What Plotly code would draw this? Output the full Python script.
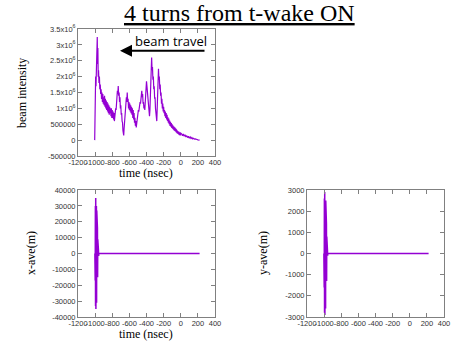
import plotly.graph_objects as go

# ---------------- data ----------------
int_t = [-1005, -1002, -998, -994, -990, -986, -982, -978, -975, -972, -968, -964, -960, -955, -950, -945,
         -940, -935, -930, -925, -920, -915, -910, -905, -900, -895, -890, -885, -880, -875, -870, -865,
         -860, -855, -850, -845, -840, -835, -830, -825, -820, -815, -810, -805, -800, -795, -790, -785,
         -780, -775, -770, -765, -760, -755, -750, -745, -740, -735, -730, -725, -720, -715, -710, -705,
         -700, -695, -690, -685, -680, -675, -670, -666, -662, -658, -654, -650, -645, -640, -635, -630,
         -625, -620, -615, -610, -605, -600, -595, -590, -585, -580, -575, -570, -565, -560, -555, -550,
         -545, -540, -535, -530, -525, -520, -515, -510, -505, -500, -495, -490, -485, -480, -475, -470,
         -465, -460, -455, -450, -445, -440, -435, -430, -425, -420, -415, -410, -405, -400, -395, -390,
         -385, -380, -375, -370, -365, -360, -355, -350, -345, -340, -335, -330, -325, -320, -315, -310,
         -305, -300, -295, -290, -285, -280, -275, -270, -265, -260, -255, -250, -245, -240, -235, -230,
         -225, -220, -215, -210, -205, -200, -195, -190, -185, -180, -175, -170, -165, -160, -155, -150,
         -145, -140, -135, -130, -125, -120, -115, -110, -105, -100, -95, -90, -85, -80, -75, -70,
         -65, -60, -55, -50, -45, -40, -35, -30, -25, -20, -15, -10, -5, 0, 10, 20,
         30, 40, 50, 60, 70, 80, 90, 100, 110, 120, 130, 140, 150, 160, 170, 180,
         190, 200, 210, 220]
int_v_e6 = [0.0, 1.7, 1.5, 2.0, 1.7, 2.2, 1.9, 2.6, 3.25, 2.4, 2.9, 2.0, 2.2, 1.8, 2.0, 1.6,
            1.75, 1.45, 1.6, 1.3, 1.5, 1.2, 1.45, 1.15, 1.35, 1.1, 1.4, 1.05, 1.3, 1.0, 1.25, 0.95,
            1.2, 0.9, 1.15, 0.85, 1.1, 0.8, 1.05, 0.85, 1.0, 0.75, 1.0, 0.7, 0.95, 0.7, 0.9, 0.65,
            0.85, 0.6, 0.9, 0.7, 1.0, 0.95, 1.3, 1.25, 1.55, 1.45, 1.7, 1.4, 1.5, 1.2, 1.35, 1.0,
            1.1, 0.8, 0.85, 0.6, 0.55, 0.3, 0.2, 0.15, 0.35, 0.5, 0.75, 0.9, 1.15, 1.05, 1.35, 1.2,
            1.5, 1.2, 1.3, 1.0, 1.2, 0.95, 1.15, 0.9, 1.1, 0.85, 1.05, 0.8, 1.0, 0.7, 0.95, 0.65,
            0.85, 0.55, 0.7, 0.45, 0.6, 0.4, 0.55, 0.65, 0.8, 0.75, 0.95, 0.9, 1.1, 1.0, 1.2, 1.15,
            1.4, 1.3, 1.55, 1.35, 1.45, 1.15, 1.2, 1.0, 1.1, 0.95, 1.2, 1.4, 1.5, 1.85, 1.7, 1.55,
            1.4, 1.25, 1.1, 0.95, 0.75, 0.95, 1.3, 1.7, 2.1, 2.6, 2.2, 2.3, 1.9, 2.0, 1.6, 1.7,
            1.3, 1.35, 1.0, 0.9, 0.7, 0.6, 1.0, 1.6, 2.0, 2.25, 1.9, 2.0, 1.6, 1.75, 1.4, 1.5,
            1.15, 1.3, 1.0, 1.15, 0.9, 1.05, 0.85, 0.95, 0.75, 0.9, 0.7, 0.85, 0.65, 0.8, 0.6, 0.72,
            0.55, 0.68, 0.5, 0.62, 0.45, 0.58, 0.42, 0.54, 0.38, 0.5, 0.36, 0.46, 0.33, 0.43, 0.3, 0.4,
            0.28, 0.37, 0.25, 0.34, 0.22, 0.3, 0.2, 0.28, 0.18, 0.26, 0.16, 0.24, 0.15, 0.22, 0.2, 0.14,
            0.19, 0.12, 0.17, 0.1, 0.14, 0.08, 0.12, 0.06, 0.1, 0.05, 0.08, 0.04, 0.06, 0.03, 0.04, 0.02,
            0.02, 0.01, 0.005, 0.0]
int_v = [v * 1e6 for v in int_v_e6]

ave_t = [-1003, -1001, -999, -997, -995, -993, -991, -989, -987, -985, -983, -981, -979, -977,
         -975, -973, -971, -969, -967, -965, -963, -961, -959, -957, 220]
xave_v = [0, 16000, -17000, 30000, -33000, 35000, -35000, 34000, -33000, 30000, -31000, 27000,
          -28000, 22000, -20000, 16000, -15000, 9000, -8000, 4000, -3500, 2000, -1500, 0, 0]
yave_v = [0, 1500, -1600, 2600, -2800, 2900, -2900, 2800, -2700, 2500, -2600, 2500,
          -2400, 2000, -1800, 1400, -1300, 800, -700, 300, -250, 150, -100, 0, 0]

x_ticks = [-1200, -1000, -800, -600, -400, -200, 0, 200, 400]
int_ticks = [-500000, 0, 500000, 1e6, 1.5e6, 2e6, 2.5e6, 3e6, 3.5e6]
int_ticktext = ["-500000", "0", "500000", "1x10<sup>6</sup>", "1.5x10<sup>6</sup>", "2x10<sup>6</sup>",
                "2.5x10<sup>6</sup>", "3x10<sup>6</sup>", "3.5x10<sup>6</sup>"]
xave_ticks = [-40000, -30000, -20000, -10000, 0, 10000, 20000, 30000, 40000]
yave_ticks = [-3000, -2000, -1000, 0, 1000, 2000, 3000]

# ---------------- figure ----------------
W, H = 452, 347
LINE = "#9400d3"
FRAME = "#808080"
TICKFONT = dict(family="Liberation Sans, Arial, sans-serif", size=7.5, color="#333333")
SERIF = "Liberation Serif, Times New Roman, serif"

def dx(a, b):
    return [a / W, b / W]

def dy(top, bottom):
    return [1 - bottom / H, 1 - top / H]

fig = go.Figure()
fig.add_trace(go.Scatter(x=int_t, y=int_v, mode="lines", line=dict(color=LINE, width=1.2),
                         xaxis="x", yaxis="y", showlegend=False))
fig.add_trace(go.Scatter(x=ave_t, y=xave_v, mode="lines", line=dict(color=LINE, width=1.5),
                         xaxis="x2", yaxis="y2", showlegend=False))
fig.add_trace(go.Scatter(x=ave_t, y=yave_v, mode="lines", line=dict(color=LINE, width=1.5),
                         xaxis="x3", yaxis="y3", showlegend=False))

axcommon = dict(showline=True, linecolor=FRAME, linewidth=1, mirror="allticks", ticks="inside",
                ticklen=4, tickcolor=FRAME, showgrid=False, zeroline=False, tickfont=TICKFONT,
                tickangle=0, automargin=False)

def xax(domain, anchor):
    return dict(domain=domain, anchor=anchor, range=[-1200, 400], tickvals=x_ticks,
                ticktext=[str(v) for v in x_ticks], ticklabelstandoff=-1, **axcommon)

fig.update_layout(
    template="none",
    width=W, height=H, margin=dict(l=0, r=0, t=0, b=0, autoexpand=False),
    paper_bgcolor="white", plot_bgcolor="white",
    xaxis=xax(dx(78, 215), "y"),
    yaxis=dict(domain=dy(29, 156), anchor="x", range=[-500000, 3500000], tickvals=int_ticks,
               ticktext=int_ticktext, **axcommon),
    xaxis2=xax(dx(78, 215), "y2"),
    yaxis2=dict(domain=dy(190, 317), anchor="x2", range=[-40000, 40000], tickvals=xave_ticks,
                ticktext=[str(v) for v in xave_ticks], **axcommon),
    xaxis3=xax(dx(307, 444), "y3"),
    yaxis3=dict(domain=dy(190, 317), anchor="x3", range=[-3000, 3000], tickvals=yave_ticks,
                ticktext=[str(v) for v in yave_ticks], **axcommon),
)

ann = []
def txt(x, y, s, size, family=SERIF, angle=0, color="black"):
    ann.append(dict(xref="paper", yref="paper", x=x / W, y=1 - y / H, text=s, showarrow=False,
                    textangle=angle, font=dict(family=family, size=size, color=color),
                    xanchor="center", yanchor="middle"))

txt(239, 13, "<u>4 turns from t-wake ON</u>", 24)
txt(22, 93, "beam intensity", 12, angle=-90)
txt(146, 173, "time (nsec)", 12)
txt(31, 253, "x-ave(m)", 12, angle=-90)
txt(146, 334, "time (nsec)", 12)
txt(263, 253, "y-ave(m)", 12, angle=-90)
txt(171, 41, "beam travel", 13, family="Open Sans, Liberation Sans, sans-serif")
# arrow (tail offset given in pixels)
ann.append(dict(xref="paper", yref="paper", x=120 / W, y=1 - 50.7 / H, ax=86, ay=0,
                axref="pixel", ayref="pixel", text="", showarrow=True, arrowhead=2, arrowsize=1.2,
                arrowwidth=2, arrowcolor="black"))
fig.update_layout(annotations=ann)

fig.write_html("out.html")
